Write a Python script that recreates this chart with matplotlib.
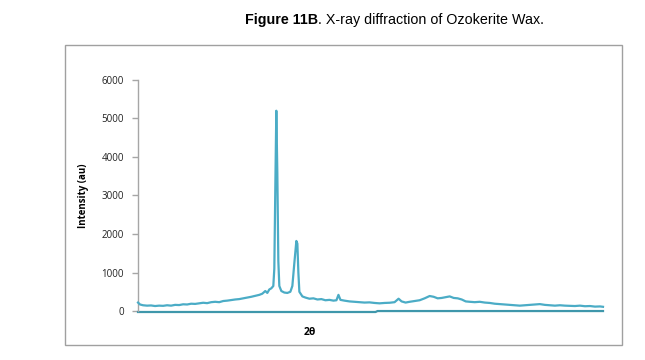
import matplotlib.pyplot as plt
from matplotlib.patches import Rectangle

# 2-theta positions (deg) and intensity (au)
two_theta = [5.0, 5.2, 5.5, 5.9, 6.3, 6.7, 7.1, 7.5, 7.9, 8.3, 8.7, 9.1, 9.5, 9.9,
             10.3, 10.7, 11.1, 11.5, 11.9, 12.3, 12.7, 13.1, 13.5, 13.9, 14.3, 14.7,
             15.1, 15.5, 15.9, 16.3, 16.7, 17.1, 17.4, 17.7, 17.9, 18.1, 18.3, 18.4,
             18.5, 18.6, 18.7, 18.8, 18.9, 19.0, 19.1, 19.3, 19.6, 19.9, 20.2, 20.4,
             20.6, 20.8, 20.9, 21.0, 21.1, 21.4, 21.7, 22.1, 22.5, 22.9, 23.3, 23.7,
             24.1, 24.5, 24.8, 25.0, 25.2, 25.6, 26.1, 26.6, 27.1, 27.6, 28.1, 28.6,
             29.1, 29.6, 30.1, 30.6, 31.0, 31.3, 31.7, 32.1, 32.6, 33.1, 33.6, 34.1,
             34.5, 34.9, 35.3, 35.7, 36.1, 36.5, 36.9, 37.3, 37.7, 38.1, 38.6, 39.1,
             39.6, 40.1, 40.6, 41.1, 41.6, 42.1, 42.6, 43.1, 43.6, 44.1, 44.6, 45.1,
             45.6, 46.1, 46.6, 47.1, 47.6, 48.1, 48.6, 49.1, 49.6, 50.1, 50.6, 51.1,
             51.4]
intensity = [220, 170, 150, 140, 145, 130, 140, 135, 150, 140, 160, 155, 175, 170,
             190, 185, 200, 215, 205, 230, 240, 230, 260, 270, 285, 300,
             310, 330, 350, 370, 395, 420, 450, 520, 470, 560, 590, 620,
             650, 1100, 3200, 5200, 3600, 1300, 650, 520, 480, 470, 500, 650,
             1250, 1820, 1750, 1000, 500, 380, 350, 320, 330, 300, 310, 280,
             290, 270, 280, 420, 290, 270, 250, 240, 230, 220, 225, 210,
             200, 210, 215, 230, 320, 250, 220, 240, 260, 280, 330, 390,
             370, 330, 340, 360, 380, 340, 330, 300, 250, 240, 230, 240,
             220, 210, 190, 180, 170, 160, 150, 140, 150, 160, 170, 180,
             160, 150, 140, 150, 140, 135, 130, 140, 125, 130, 115, 120,
             110]

# flat trace along zero with a small step near the middle
base_theta = [5.0, 28.7, 28.9, 51.4]
base_int = [-25, -25, 0, 0]

fig = plt.figure(figsize=(6.45, 3.6), dpi=100)
ax = fig.add_axes([0.214, 0.136, 0.724, 0.642])

ax.plot(base_theta, base_int, color='#3F97AB', lw=1.6, zorder=2, clip_on=False)
ax.plot(two_theta, intensity, color='#4BACC6', lw=1.6, zorder=3, clip_on=False)

ax.set_xlim(5.0, 51.6)
ax.set_ylim(0, 6000)
ax.set_yticks(range(0, 6001, 1000))
ax.set_xticks([])

for s in ['top', 'right', 'bottom']:
    ax.spines[s].set_visible(False)
ax.spines['left'].set_color('#A6A6A6')
ax.spines['left'].set_linewidth(1.0)
ax.tick_params(axis='y', length=4, width=1, color='#A6A6A6', labelsize=7,
               labelcolor='#222222', pad=6)
for t in ax.get_yticklabels():
    t.set_family('Open Sans')

ax.set_ylabel('Intensity (au)', fontsize=7, fontweight='bold', family='Open Sans')
ax.yaxis.set_label_coords(-0.105, 0.5)
ax.set_xlabel('2θ', fontsize=7.5, fontweight='bold', family='Open Sans')
ax.xaxis.set_label_coords(0.368, -0.07)

# outer chart border
fig.patches.append(Rectangle((0.101, 0.042), 0.863, 0.833, transform=fig.transFigure,
                             fill=False, edgecolor='#A0A0A0', lw=1.0))

# title: bold prefix + normal text
t1 = fig.text(0.38, 0.945, 'Figure 11B', fontsize=10.3, fontweight='bold',
              family='Liberation Sans', ha='left', va='center')
fig.canvas.draw()
bb = t1.get_window_extent()
x2 = fig.transFigure.inverted().transform((bb.x1, bb.y0))[0]
fig.text(x2, 0.945, '. X-ray diffraction of Ozokerite Wax.', fontsize=10.3,
         family='Liberation Sans', ha='left', va='center')

fig.savefig('out.png', dpi=100)
